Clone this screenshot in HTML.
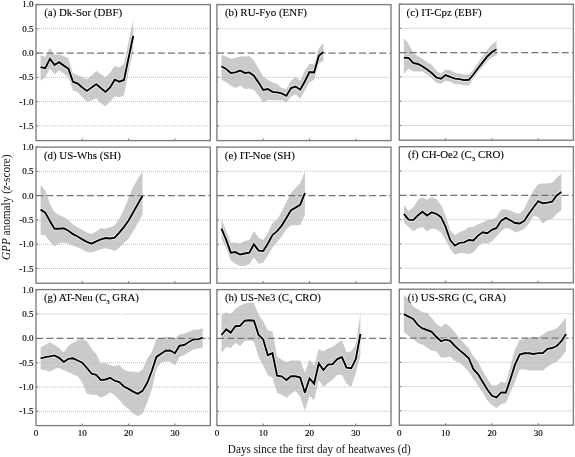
<!DOCTYPE html><html><head><meta charset="utf-8"><style>html,body{margin:0;padding:0;background:#fff;}svg{display:block;will-change:transform;}text{font-family:"Liberation Serif",serif;}</style></head><body>
<svg width="575" height="457" viewBox="0 0 575 457">
<polygon fill="#cacaca" points="40.6,54.9 45.3,56.9 49.9,48.1 54.5,54.7 59.1,54.5 63.8,55.9 68.4,58.3 73.0,73.4 77.7,74.9 82.3,77.3 86.9,79.2 91.6,75.4 96.2,71.0 100.8,73.9 105.5,77.3 110.1,72.4 114.7,66.1 119.3,67.6 124.0,63.7 128.6,41.8 133.2,19.5 133.2,50.6 128.6,72.0 124.0,95.3 119.3,97.2 114.7,96.3 110.1,101.6 105.5,106.5 100.8,103.1 96.2,98.2 91.6,100.6 86.9,101.6 82.3,97.2 77.7,91.9 73.0,90.4 68.4,77.3 63.8,73.4 59.1,70.5 54.5,74.4 49.9,68.6 45.3,77.3 40.6,80.7"/>
<line x1="37.0" y1="28.7" x2="210.3" y2="28.7" stroke="#bababa" stroke-width="1" stroke-dasharray="1 1"/>
<line x1="37.0" y1="77.3" x2="210.3" y2="77.3" stroke="#bababa" stroke-width="1" stroke-dasharray="1 1"/>
<line x1="37.0" y1="101.6" x2="210.3" y2="101.6" stroke="#bababa" stroke-width="1" stroke-dasharray="1 1"/>
<line x1="37.0" y1="125.9" x2="210.3" y2="125.9" stroke="#bababa" stroke-width="1" stroke-dasharray="1 1"/>
<line x1="36.3" y1="53.0" x2="210.3" y2="53.0" stroke="#747474" stroke-width="1.25" stroke-dasharray="7 3.13"/>
<polyline fill="none" stroke="#f4f4f4" stroke-width="3.4" stroke-linejoin="miter" stroke-miterlimit="3" points="40.6,67.1 45.3,68.1 49.9,58.8 54.5,64.9 59.1,62.2 63.8,65.6 68.4,68.6 73.0,81.7 77.7,83.6 82.3,87.5 86.9,90.9 91.6,87.5 96.2,84.1 100.8,88.0 105.5,91.9 110.1,87.5 114.7,79.7 119.3,81.7 124.0,80.0 128.6,57.9 133.2,36.0"/>
<polyline fill="none" stroke="#000" stroke-width="1.9" stroke-linejoin="miter" stroke-miterlimit="3" points="40.6,67.1 45.3,68.1 49.9,58.8 54.5,64.9 59.1,62.2 63.8,65.6 68.4,68.6 73.0,81.7 77.7,83.6 82.3,87.5 86.9,90.9 91.6,87.5 96.2,84.1 100.8,88.0 105.5,91.9 110.1,87.5 114.7,79.7 119.3,81.7 124.0,80.0 128.6,57.9 133.2,36.0"/>
<line x1="36.0" y1="4.4" x2="38.0" y2="4.4" stroke="#707070" stroke-width="1"/>
<line x1="36.0" y1="28.7" x2="38.0" y2="28.7" stroke="#707070" stroke-width="1"/>
<line x1="36.0" y1="53.0" x2="38.0" y2="53.0" stroke="#707070" stroke-width="1"/>
<line x1="36.0" y1="77.3" x2="38.0" y2="77.3" stroke="#707070" stroke-width="1"/>
<line x1="36.0" y1="101.6" x2="38.0" y2="101.6" stroke="#707070" stroke-width="1"/>
<line x1="36.0" y1="125.9" x2="38.0" y2="125.9" stroke="#707070" stroke-width="1"/>
<line x1="82.3" y1="140.6" x2="82.3" y2="138.6" stroke="#707070" stroke-width="1"/>
<line x1="128.6" y1="140.6" x2="128.6" y2="138.6" stroke="#707070" stroke-width="1"/>
<line x1="174.9" y1="140.6" x2="174.9" y2="138.6" stroke="#707070" stroke-width="1"/>
<rect x="36.0" y="4.6" width="174.3" height="136.0" fill="none" stroke="#7c7c7c" stroke-width="1.35"/>
<text x="44.2" y="16.2" font-size="11" textLength="78.0" lengthAdjust="spacingAndGlyphs" fill="#000" stroke="#000" stroke-width="0.1">(a) Dk-Sor (DBF)</text>
<polygon fill="#cacaca" points="221.5,54.9 226.2,56.4 230.8,58.8 235.4,57.9 240.1,56.4 244.7,56.4 249.3,55.9 253.9,60.5 258.6,68.6 263.2,76.3 267.8,79.7 272.5,82.6 277.1,83.9 281.7,88.0 286.4,89.0 291.0,80.7 295.6,76.8 300.2,80.7 304.9,70.5 309.5,63.7 314.1,64.2 318.8,48.4 323.4,42.8 323.4,60.8 318.8,63.7 314.1,79.7 309.5,82.2 304.9,90.4 300.2,98.7 295.6,94.3 291.0,96.7 286.4,102.6 281.7,100.1 277.1,100.6 272.5,100.1 267.8,100.1 263.2,102.6 258.6,95.8 253.9,89.9 249.3,88.5 244.7,89.0 240.1,85.6 235.4,88.0 230.8,85.6 226.2,82.2 221.5,79.7"/>
<line x1="217.9" y1="28.7" x2="391.0" y2="28.7" stroke="#bababa" stroke-width="1" stroke-dasharray="1 1"/>
<line x1="217.9" y1="77.3" x2="391.0" y2="77.3" stroke="#bababa" stroke-width="1" stroke-dasharray="1 1"/>
<line x1="217.9" y1="101.6" x2="391.0" y2="101.6" stroke="#bababa" stroke-width="1" stroke-dasharray="1 1"/>
<line x1="217.9" y1="125.9" x2="391.0" y2="125.9" stroke="#bababa" stroke-width="1" stroke-dasharray="1 1"/>
<line x1="217.2" y1="53.0" x2="391.0" y2="53.0" stroke="#747474" stroke-width="1.25" stroke-dasharray="7 3.13"/>
<polyline fill="none" stroke="#f4f4f4" stroke-width="3.4" stroke-linejoin="miter" stroke-miterlimit="3" points="221.5,66.4 226.2,69.0 230.8,72.9 235.4,72.4 240.1,70.5 244.7,72.9 249.3,72.4 253.9,75.6 258.6,82.6 263.2,89.9 267.8,89.0 272.5,91.9 277.1,92.4 281.7,93.3 286.4,95.8 291.0,88.0 295.6,86.5 300.2,89.7 304.9,81.2 309.5,72.0 314.1,72.4 318.8,55.9 323.4,52.0"/>
<polyline fill="none" stroke="#000" stroke-width="1.9" stroke-linejoin="miter" stroke-miterlimit="3" points="221.5,66.4 226.2,69.0 230.8,72.9 235.4,72.4 240.1,70.5 244.7,72.9 249.3,72.4 253.9,75.6 258.6,82.6 263.2,89.9 267.8,89.0 272.5,91.9 277.1,92.4 281.7,93.3 286.4,95.8 291.0,88.0 295.6,86.5 300.2,89.7 304.9,81.2 309.5,72.0 314.1,72.4 318.8,55.9 323.4,52.0"/>
<line x1="216.9" y1="4.4" x2="218.9" y2="4.4" stroke="#707070" stroke-width="1"/>
<line x1="216.9" y1="28.7" x2="218.9" y2="28.7" stroke="#707070" stroke-width="1"/>
<line x1="216.9" y1="53.0" x2="218.9" y2="53.0" stroke="#707070" stroke-width="1"/>
<line x1="216.9" y1="77.3" x2="218.9" y2="77.3" stroke="#707070" stroke-width="1"/>
<line x1="216.9" y1="101.6" x2="218.9" y2="101.6" stroke="#707070" stroke-width="1"/>
<line x1="216.9" y1="125.9" x2="218.9" y2="125.9" stroke="#707070" stroke-width="1"/>
<line x1="263.2" y1="140.6" x2="263.2" y2="138.6" stroke="#707070" stroke-width="1"/>
<line x1="309.5" y1="140.6" x2="309.5" y2="138.6" stroke="#707070" stroke-width="1"/>
<line x1="355.8" y1="140.6" x2="355.8" y2="138.6" stroke="#707070" stroke-width="1"/>
<rect x="216.9" y="4.6" width="174.1" height="136.0" fill="none" stroke="#7c7c7c" stroke-width="1.35"/>
<text x="224.9" y="16.2" font-size="11" textLength="82.0" lengthAdjust="spacingAndGlyphs" fill="#000" stroke="#000" stroke-width="0.1">(b) RU-Fyo (ENF)</text>
<polygon fill="#cacaca" points="403.9,38.0 408.6,43.9 413.2,53.1 417.8,56.0 422.4,58.7 427.1,62.3 431.7,64.8 436.3,70.8 441.0,73.7 445.6,69.4 450.2,70.1 454.9,72.8 459.5,73.5 464.1,74.5 468.8,74.5 473.4,69.6 478.0,62.8 482.6,56.5 487.3,49.7 491.9,44.3 496.5,40.9 496.5,55.0 491.9,57.5 487.3,60.9 482.6,67.2 478.0,72.3 473.4,78.6 468.8,85.6 464.1,85.2 459.5,84.2 454.9,84.2 450.2,81.8 445.6,80.8 441.0,83.7 436.3,82.7 431.7,77.9 427.1,74.5 422.4,71.6 417.8,71.6 413.2,71.6 408.6,68.6 403.9,73.7"/>
<line x1="400.3" y1="28.3" x2="573.4" y2="28.3" stroke="#bababa" stroke-width="1" stroke-dasharray="1 1"/>
<line x1="400.3" y1="76.9" x2="573.4" y2="76.9" stroke="#bababa" stroke-width="1" stroke-dasharray="1 1"/>
<line x1="400.3" y1="101.2" x2="573.4" y2="101.2" stroke="#bababa" stroke-width="1" stroke-dasharray="1 1"/>
<line x1="400.3" y1="125.5" x2="573.4" y2="125.5" stroke="#bababa" stroke-width="1" stroke-dasharray="1 1"/>
<line x1="399.6" y1="52.6" x2="573.4" y2="52.6" stroke="#747474" stroke-width="1.25" stroke-dasharray="7 3.13"/>
<polyline fill="none" stroke="#f4f4f4" stroke-width="3.4" stroke-linejoin="miter" stroke-miterlimit="3" points="403.9,57.8 408.6,57.9 413.2,62.8 417.8,64.0 422.4,66.2 427.1,69.6 431.7,73.0 436.3,77.4 441.0,78.8 445.6,75.0 450.2,76.9 454.9,78.6 459.5,79.1 464.1,80.1 468.8,79.8 473.4,74.5 478.0,68.2 482.6,62.3 487.3,56.5 491.9,52.1 496.5,49.2"/>
<polyline fill="none" stroke="#000" stroke-width="1.9" stroke-linejoin="miter" stroke-miterlimit="3" points="403.9,57.8 408.6,57.9 413.2,62.8 417.8,64.0 422.4,66.2 427.1,69.6 431.7,73.0 436.3,77.4 441.0,78.8 445.6,75.0 450.2,76.9 454.9,78.6 459.5,79.1 464.1,80.1 468.8,79.8 473.4,74.5 478.0,68.2 482.6,62.3 487.3,56.5 491.9,52.1 496.5,49.2"/>
<line x1="399.3" y1="4.0" x2="401.3" y2="4.0" stroke="#707070" stroke-width="1"/>
<line x1="399.3" y1="28.3" x2="401.3" y2="28.3" stroke="#707070" stroke-width="1"/>
<line x1="399.3" y1="52.6" x2="401.3" y2="52.6" stroke="#707070" stroke-width="1"/>
<line x1="399.3" y1="76.9" x2="401.3" y2="76.9" stroke="#707070" stroke-width="1"/>
<line x1="399.3" y1="101.2" x2="401.3" y2="101.2" stroke="#707070" stroke-width="1"/>
<line x1="399.3" y1="125.5" x2="401.3" y2="125.5" stroke="#707070" stroke-width="1"/>
<line x1="445.6" y1="140.2" x2="445.6" y2="138.2" stroke="#707070" stroke-width="1"/>
<line x1="491.9" y1="140.2" x2="491.9" y2="138.2" stroke="#707070" stroke-width="1"/>
<line x1="538.2" y1="140.2" x2="538.2" y2="138.2" stroke="#707070" stroke-width="1"/>
<rect x="399.3" y="4.2" width="174.1" height="136.0" fill="none" stroke="#7c7c7c" stroke-width="1.35"/>
<text x="406.6" y="15.8" font-size="11" textLength="75.0" lengthAdjust="spacingAndGlyphs" fill="#000" stroke="#000" stroke-width="0.1">(c) IT-Cpz (EBF)</text>
<polygon fill="#cacaca" points="40.6,185.0 45.3,190.8 49.9,204.0 54.5,212.0 59.1,215.1 63.8,217.1 68.4,220.0 73.0,224.4 77.7,227.5 82.3,230.0 86.9,232.6 91.6,233.9 96.2,231.2 100.8,228.3 105.5,228.7 110.1,227.3 114.7,225.3 119.3,218.5 124.0,209.6 128.6,198.1 133.2,187.0 137.9,178.7 142.5,171.4 142.5,214.7 137.9,222.9 133.2,231.4 128.6,238.7 124.0,242.8 119.3,247.7 114.7,251.1 110.1,249.2 105.5,248.2 100.8,249.2 96.2,251.1 91.6,252.6 86.9,252.1 82.3,249.6 77.7,247.2 73.0,245.8 68.4,243.8 63.8,242.4 59.1,243.3 54.5,246.2 49.9,241.4 45.3,235.6 40.6,235.1"/>
<line x1="37.0" y1="171.4" x2="210.3" y2="171.4" stroke="#bababa" stroke-width="1" stroke-dasharray="1 1"/>
<line x1="37.0" y1="220.0" x2="210.3" y2="220.0" stroke="#bababa" stroke-width="1" stroke-dasharray="1 1"/>
<line x1="37.0" y1="244.3" x2="210.3" y2="244.3" stroke="#bababa" stroke-width="1" stroke-dasharray="1 1"/>
<line x1="37.0" y1="268.6" x2="210.3" y2="268.6" stroke="#bababa" stroke-width="1" stroke-dasharray="1 1"/>
<line x1="36.3" y1="195.7" x2="210.3" y2="195.7" stroke="#747474" stroke-width="1.25" stroke-dasharray="7 3.13"/>
<polyline fill="none" stroke="#f4f4f4" stroke-width="3.4" stroke-linejoin="miter" stroke-miterlimit="3" points="40.6,209.6 45.3,212.7 49.9,221.0 54.5,228.7 59.1,228.7 63.8,228.3 68.4,230.7 73.0,234.1 77.7,236.5 82.3,239.4 86.9,241.9 91.6,243.6 96.2,241.4 100.8,239.4 105.5,238.0 110.1,238.5 114.7,237.7 119.3,232.6 124.0,226.8 128.6,220.5 133.2,212.2 137.9,204.0 142.5,195.7"/>
<polyline fill="none" stroke="#000" stroke-width="1.9" stroke-linejoin="miter" stroke-miterlimit="3" points="40.6,209.6 45.3,212.7 49.9,221.0 54.5,228.7 59.1,228.7 63.8,228.3 68.4,230.7 73.0,234.1 77.7,236.5 82.3,239.4 86.9,241.9 91.6,243.6 96.2,241.4 100.8,239.4 105.5,238.0 110.1,238.5 114.7,237.7 119.3,232.6 124.0,226.8 128.6,220.5 133.2,212.2 137.9,204.0 142.5,195.7"/>
<line x1="36.0" y1="147.1" x2="38.0" y2="147.1" stroke="#707070" stroke-width="1"/>
<line x1="36.0" y1="171.4" x2="38.0" y2="171.4" stroke="#707070" stroke-width="1"/>
<line x1="36.0" y1="195.7" x2="38.0" y2="195.7" stroke="#707070" stroke-width="1"/>
<line x1="36.0" y1="220.0" x2="38.0" y2="220.0" stroke="#707070" stroke-width="1"/>
<line x1="36.0" y1="244.3" x2="38.0" y2="244.3" stroke="#707070" stroke-width="1"/>
<line x1="36.0" y1="268.6" x2="38.0" y2="268.6" stroke="#707070" stroke-width="1"/>
<line x1="82.3" y1="283.2" x2="82.3" y2="281.2" stroke="#707070" stroke-width="1"/>
<line x1="128.6" y1="283.2" x2="128.6" y2="281.2" stroke="#707070" stroke-width="1"/>
<line x1="174.9" y1="283.2" x2="174.9" y2="281.2" stroke="#707070" stroke-width="1"/>
<rect x="36.0" y="147.1" width="174.3" height="136.1" fill="none" stroke="#7c7c7c" stroke-width="1.35"/>
<text x="43.9" y="158.7" font-size="11" textLength="77.0" lengthAdjust="spacingAndGlyphs" fill="#000" stroke="#000" stroke-width="0.1">(d) US-Whs (SH)</text>
<polygon fill="#cacaca" points="221.5,219.0 226.2,230.7 230.8,242.8 235.4,242.4 240.1,243.3 244.7,240.9 249.3,239.9 253.9,231.2 258.6,237.5 263.2,239.9 267.8,233.1 272.5,222.9 277.1,219.5 281.7,211.7 286.4,202.0 291.0,193.0 295.6,187.9 300.2,183.3 304.9,171.4 304.9,214.7 300.2,225.3 295.6,225.3 291.0,225.3 286.4,229.2 281.7,236.5 277.1,241.9 272.5,247.2 267.8,255.5 263.2,262.8 258.6,263.7 253.9,257.4 249.3,264.2 244.7,265.7 240.1,266.2 235.4,263.7 230.8,260.3 226.2,248.2 221.5,239.0"/>
<line x1="217.9" y1="171.4" x2="391.0" y2="171.4" stroke="#bababa" stroke-width="1" stroke-dasharray="1 1"/>
<line x1="217.9" y1="220.0" x2="391.0" y2="220.0" stroke="#bababa" stroke-width="1" stroke-dasharray="1 1"/>
<line x1="217.9" y1="244.3" x2="391.0" y2="244.3" stroke="#bababa" stroke-width="1" stroke-dasharray="1 1"/>
<line x1="217.9" y1="268.6" x2="391.0" y2="268.6" stroke="#bababa" stroke-width="1" stroke-dasharray="1 1"/>
<line x1="217.2" y1="195.7" x2="391.0" y2="195.7" stroke="#747474" stroke-width="1.25" stroke-dasharray="7 3.13"/>
<polyline fill="none" stroke="#f4f4f4" stroke-width="3.4" stroke-linejoin="miter" stroke-miterlimit="3" points="221.5,228.5 226.2,239.9 230.8,252.6 235.4,252.1 240.1,254.5 244.7,253.5 249.3,252.6 253.9,244.3 258.6,250.6 263.2,251.1 267.8,243.8 272.5,235.1 277.1,231.2 281.7,225.6 286.4,218.1 291.0,210.3 295.6,207.6 300.2,204.9 304.9,193.0"/>
<polyline fill="none" stroke="#000" stroke-width="1.9" stroke-linejoin="miter" stroke-miterlimit="3" points="221.5,228.5 226.2,239.9 230.8,252.6 235.4,252.1 240.1,254.5 244.7,253.5 249.3,252.6 253.9,244.3 258.6,250.6 263.2,251.1 267.8,243.8 272.5,235.1 277.1,231.2 281.7,225.6 286.4,218.1 291.0,210.3 295.6,207.6 300.2,204.9 304.9,193.0"/>
<line x1="216.9" y1="147.1" x2="218.9" y2="147.1" stroke="#707070" stroke-width="1"/>
<line x1="216.9" y1="171.4" x2="218.9" y2="171.4" stroke="#707070" stroke-width="1"/>
<line x1="216.9" y1="195.7" x2="218.9" y2="195.7" stroke="#707070" stroke-width="1"/>
<line x1="216.9" y1="220.0" x2="218.9" y2="220.0" stroke="#707070" stroke-width="1"/>
<line x1="216.9" y1="244.3" x2="218.9" y2="244.3" stroke="#707070" stroke-width="1"/>
<line x1="216.9" y1="268.6" x2="218.9" y2="268.6" stroke="#707070" stroke-width="1"/>
<line x1="263.2" y1="283.2" x2="263.2" y2="281.2" stroke="#707070" stroke-width="1"/>
<line x1="309.5" y1="283.2" x2="309.5" y2="281.2" stroke="#707070" stroke-width="1"/>
<line x1="355.8" y1="283.2" x2="355.8" y2="281.2" stroke="#707070" stroke-width="1"/>
<rect x="216.9" y="147.1" width="174.1" height="136.1" fill="none" stroke="#7c7c7c" stroke-width="1.35"/>
<text x="224.8" y="158.7" font-size="11" textLength="70.0" lengthAdjust="spacingAndGlyphs" fill="#000" stroke="#000" stroke-width="0.1">(e) IT-Noe (SH)</text>
<polygon fill="#cacaca" points="403.9,205.0 408.6,211.1 413.2,207.4 417.8,200.2 422.4,197.2 427.1,199.7 431.7,197.2 436.3,198.7 441.0,205.0 445.6,215.5 450.2,230.3 454.9,235.2 459.5,232.2 464.1,230.3 468.8,227.1 473.4,226.9 478.0,224.2 482.6,222.5 487.3,220.1 491.9,219.6 496.5,217.2 501.2,209.6 505.8,209.2 510.4,210.6 515.0,212.8 519.7,213.8 524.3,208.7 528.9,198.9 533.6,190.2 538.2,184.1 542.8,183.4 547.5,183.4 552.1,182.7 556.7,178.0 561.4,173.7 561.4,210.4 556.7,213.8 552.1,219.1 547.5,220.1 542.8,223.5 538.2,217.2 533.6,215.7 528.9,223.5 524.3,228.8 519.7,231.3 515.0,232.2 510.4,229.1 505.8,228.1 501.2,231.3 496.5,236.4 491.9,241.2 487.3,243.4 482.6,242.9 478.0,246.8 473.4,252.6 468.8,254.1 464.1,253.1 459.5,253.1 454.9,255.1 450.2,248.8 445.6,240.0 441.0,232.2 436.3,229.3 431.7,228.6 427.1,231.3 422.4,226.9 417.8,228.6 413.2,231.3 408.6,226.9 403.9,222.5"/>
<line x1="400.3" y1="171.0" x2="573.4" y2="171.0" stroke="#bababa" stroke-width="1" stroke-dasharray="1 1"/>
<line x1="400.3" y1="219.6" x2="573.4" y2="219.6" stroke="#bababa" stroke-width="1" stroke-dasharray="1 1"/>
<line x1="400.3" y1="243.9" x2="573.4" y2="243.9" stroke="#bababa" stroke-width="1" stroke-dasharray="1 1"/>
<line x1="400.3" y1="268.2" x2="573.4" y2="268.2" stroke="#bababa" stroke-width="1" stroke-dasharray="1 1"/>
<line x1="399.6" y1="195.3" x2="573.4" y2="195.3" stroke="#747474" stroke-width="1.25" stroke-dasharray="7 3.13"/>
<polyline fill="none" stroke="#f4f4f4" stroke-width="3.4" stroke-linejoin="miter" stroke-miterlimit="3" points="403.9,213.8 408.6,219.6 413.2,220.1 417.8,215.5 422.4,211.8 427.1,215.5 431.7,212.3 436.3,213.8 441.0,217.2 445.6,226.9 450.2,240.0 454.9,245.6 459.5,242.9 464.1,242.4 468.8,240.0 473.4,240.5 478.0,235.6 482.6,232.2 487.3,233.2 491.9,229.8 496.5,227.9 501.2,220.6 505.8,217.9 510.4,220.3 515.0,223.0 519.7,223.5 524.3,220.8 528.9,213.8 533.6,207.2 538.2,201.1 542.8,203.3 547.5,202.6 552.1,201.6 556.7,195.5 561.4,191.9"/>
<polyline fill="none" stroke="#000" stroke-width="1.9" stroke-linejoin="miter" stroke-miterlimit="3" points="403.9,213.8 408.6,219.6 413.2,220.1 417.8,215.5 422.4,211.8 427.1,215.5 431.7,212.3 436.3,213.8 441.0,217.2 445.6,226.9 450.2,240.0 454.9,245.6 459.5,242.9 464.1,242.4 468.8,240.0 473.4,240.5 478.0,235.6 482.6,232.2 487.3,233.2 491.9,229.8 496.5,227.9 501.2,220.6 505.8,217.9 510.4,220.3 515.0,223.0 519.7,223.5 524.3,220.8 528.9,213.8 533.6,207.2 538.2,201.1 542.8,203.3 547.5,202.6 552.1,201.6 556.7,195.5 561.4,191.9"/>
<line x1="399.3" y1="146.7" x2="401.3" y2="146.7" stroke="#707070" stroke-width="1"/>
<line x1="399.3" y1="171.0" x2="401.3" y2="171.0" stroke="#707070" stroke-width="1"/>
<line x1="399.3" y1="195.3" x2="401.3" y2="195.3" stroke="#707070" stroke-width="1"/>
<line x1="399.3" y1="219.6" x2="401.3" y2="219.6" stroke="#707070" stroke-width="1"/>
<line x1="399.3" y1="243.9" x2="401.3" y2="243.9" stroke="#707070" stroke-width="1"/>
<line x1="399.3" y1="268.2" x2="401.3" y2="268.2" stroke="#707070" stroke-width="1"/>
<line x1="445.6" y1="282.8" x2="445.6" y2="280.8" stroke="#707070" stroke-width="1"/>
<line x1="491.9" y1="282.8" x2="491.9" y2="280.8" stroke="#707070" stroke-width="1"/>
<line x1="538.2" y1="282.8" x2="538.2" y2="280.8" stroke="#707070" stroke-width="1"/>
<rect x="399.3" y="146.7" width="174.1" height="136.1" fill="none" stroke="#7c7c7c" stroke-width="1.35"/>
<text x="407.9" y="158.3" font-size="11" textLength="96.0" lengthAdjust="spacingAndGlyphs" fill="#000" stroke="#000" stroke-width="0.1">(f) CH-Oe2 (C<tspan font-size="7" dy="3">3</tspan><tspan dy="-3"> </tspan>CRO)</text>
<polygon fill="#cacaca" points="40.6,347.6 45.3,344.7 49.9,342.3 54.5,344.7 59.1,348.1 63.8,352.5 68.4,345.7 73.0,342.8 77.7,340.1 82.3,339.1 86.9,341.3 91.6,348.6 96.2,354.0 100.8,363.7 105.5,362.7 110.1,365.1 114.7,366.3 119.3,365.1 124.0,369.7 128.6,371.4 133.2,371.4 137.9,372.4 142.5,369.7 147.1,358.8 151.8,352.3 156.4,338.4 161.0,338.2 165.6,336.9 170.3,336.9 174.9,338.4 179.5,334.5 184.2,333.5 188.8,332.1 193.4,329.7 198.0,329.7 202.7,328.2 202.7,347.6 198.0,348.6 193.4,349.6 188.8,352.3 184.2,354.9 179.5,356.9 174.9,365.6 170.3,361.7 165.6,361.2 161.0,362.5 156.4,369.0 151.8,389.4 147.1,403.0 142.5,413.5 137.9,416.2 133.2,413.5 128.6,409.1 124.0,405.5 119.3,400.1 114.7,395.3 110.1,392.3 105.5,395.7 100.8,397.7 96.2,394.8 91.6,394.8 86.9,393.8 82.3,382.4 77.7,376.3 73.0,374.6 68.4,371.9 63.8,370.2 59.1,368.0 54.5,369.0 49.9,371.7 45.3,370.2 40.6,369.5"/>
<line x1="37.0" y1="314.1" x2="210.3" y2="314.1" stroke="#bababa" stroke-width="1" stroke-dasharray="1 1"/>
<line x1="37.0" y1="362.7" x2="210.3" y2="362.7" stroke="#bababa" stroke-width="1" stroke-dasharray="1 1"/>
<line x1="37.0" y1="387.0" x2="210.3" y2="387.0" stroke="#bababa" stroke-width="1" stroke-dasharray="1 1"/>
<line x1="37.0" y1="411.3" x2="210.3" y2="411.3" stroke="#bababa" stroke-width="1" stroke-dasharray="1 1"/>
<line x1="36.3" y1="338.4" x2="210.3" y2="338.4" stroke="#747474" stroke-width="1.25" stroke-dasharray="7 3.13"/>
<polyline fill="none" stroke="#f4f4f4" stroke-width="3.4" stroke-linejoin="miter" stroke-miterlimit="3" points="40.6,358.3 45.3,357.1 49.9,356.4 54.5,355.4 59.1,357.8 63.8,362.0 68.4,358.8 73.0,358.3 77.7,360.5 82.3,362.7 86.9,368.0 91.6,373.6 96.2,374.8 100.8,380.0 105.5,379.5 110.1,377.8 114.7,380.7 119.3,382.1 124.0,386.5 128.6,388.9 133.2,391.6 137.9,393.8 142.5,390.9 147.1,383.1 151.8,371.0 156.4,356.9 161.0,353.7 165.6,350.8 170.3,350.5 174.9,353.2 179.5,345.7 184.2,345.0 188.8,342.0 193.4,339.4 198.0,339.4 202.7,337.7"/>
<polyline fill="none" stroke="#000" stroke-width="1.9" stroke-linejoin="miter" stroke-miterlimit="3" points="40.6,358.3 45.3,357.1 49.9,356.4 54.5,355.4 59.1,357.8 63.8,362.0 68.4,358.8 73.0,358.3 77.7,360.5 82.3,362.7 86.9,368.0 91.6,373.6 96.2,374.8 100.8,380.0 105.5,379.5 110.1,377.8 114.7,380.7 119.3,382.1 124.0,386.5 128.6,388.9 133.2,391.6 137.9,393.8 142.5,390.9 147.1,383.1 151.8,371.0 156.4,356.9 161.0,353.7 165.6,350.8 170.3,350.5 174.9,353.2 179.5,345.7 184.2,345.0 188.8,342.0 193.4,339.4 198.0,339.4 202.7,337.7"/>
<line x1="36.0" y1="289.8" x2="38.0" y2="289.8" stroke="#707070" stroke-width="1"/>
<line x1="36.0" y1="314.1" x2="38.0" y2="314.1" stroke="#707070" stroke-width="1"/>
<line x1="36.0" y1="338.4" x2="38.0" y2="338.4" stroke="#707070" stroke-width="1"/>
<line x1="36.0" y1="362.7" x2="38.0" y2="362.7" stroke="#707070" stroke-width="1"/>
<line x1="36.0" y1="387.0" x2="38.0" y2="387.0" stroke="#707070" stroke-width="1"/>
<line x1="36.0" y1="411.3" x2="38.0" y2="411.3" stroke="#707070" stroke-width="1"/>
<line x1="82.3" y1="425.6" x2="82.3" y2="423.6" stroke="#707070" stroke-width="1"/>
<line x1="128.6" y1="425.6" x2="128.6" y2="423.6" stroke="#707070" stroke-width="1"/>
<line x1="174.9" y1="425.6" x2="174.9" y2="423.6" stroke="#707070" stroke-width="1"/>
<rect x="36.0" y="289.6" width="174.3" height="136.0" fill="none" stroke="#7c7c7c" stroke-width="1.35"/>
<text x="43.9" y="301.2" font-size="11" textLength="95.0" lengthAdjust="spacingAndGlyphs" fill="#000" stroke="#000" stroke-width="0.1">(g) AT-Neu (C<tspan font-size="7" dy="3">3</tspan><tspan dy="-3"> </tspan>GRA)</text>
<polygon fill="#cacaca" points="221.5,314.8 226.2,312.2 230.8,314.1 235.4,308.8 240.1,305.4 244.7,303.4 249.3,302.4 253.9,302.9 258.6,314.8 263.2,320.9 267.8,330.6 272.5,331.6 277.1,356.6 281.7,359.5 286.4,362.5 291.0,360.5 295.6,360.5 300.2,360.5 304.9,372.4 309.5,359.5 314.1,365.6 318.8,349.1 323.4,351.5 328.0,348.6 332.6,346.7 337.3,343.3 341.9,340.3 346.5,352.3 351.2,351.3 355.8,344.2 360.4,312.9 360.4,356.1 355.8,372.9 351.2,387.0 346.5,383.6 341.9,374.8 337.3,374.8 332.6,379.7 328.0,383.1 323.4,386.8 318.8,380.0 314.1,400.6 309.5,395.7 304.9,410.8 300.2,396.7 295.6,390.9 291.0,393.8 286.4,397.7 281.7,394.8 277.1,392.8 272.5,377.8 267.8,375.3 263.2,365.6 258.6,356.9 253.9,341.6 249.3,340.6 244.7,341.1 240.1,345.9 235.4,342.8 230.8,348.1 226.2,347.1 221.5,353.2"/>
<line x1="217.9" y1="314.1" x2="391.0" y2="314.1" stroke="#bababa" stroke-width="1" stroke-dasharray="1 1"/>
<line x1="217.9" y1="362.7" x2="391.0" y2="362.7" stroke="#bababa" stroke-width="1" stroke-dasharray="1 1"/>
<line x1="217.9" y1="387.0" x2="391.0" y2="387.0" stroke="#bababa" stroke-width="1" stroke-dasharray="1 1"/>
<line x1="217.9" y1="411.3" x2="391.0" y2="411.3" stroke="#bababa" stroke-width="1" stroke-dasharray="1 1"/>
<line x1="217.2" y1="338.4" x2="391.0" y2="338.4" stroke="#747474" stroke-width="1.25" stroke-dasharray="7 3.13"/>
<polyline fill="none" stroke="#f4f4f4" stroke-width="3.4" stroke-linejoin="miter" stroke-miterlimit="3" points="221.5,335.0 226.2,329.4 230.8,332.6 235.4,326.2 240.1,325.8 244.7,320.7 249.3,320.2 253.9,320.7 258.6,335.0 263.2,339.4 267.8,355.2 272.5,353.2 277.1,375.6 281.7,376.3 286.4,380.0 291.0,376.3 295.6,376.3 300.2,377.5 304.9,392.8 309.5,378.3 314.1,383.6 318.8,363.4 323.4,370.0 328.0,364.6 332.6,364.2 337.3,359.1 341.9,357.1 346.5,367.6 351.2,368.3 355.8,359.1 360.4,334.0"/>
<polyline fill="none" stroke="#000" stroke-width="1.9" stroke-linejoin="miter" stroke-miterlimit="3" points="221.5,335.0 226.2,329.4 230.8,332.6 235.4,326.2 240.1,325.8 244.7,320.7 249.3,320.2 253.9,320.7 258.6,335.0 263.2,339.4 267.8,355.2 272.5,353.2 277.1,375.6 281.7,376.3 286.4,380.0 291.0,376.3 295.6,376.3 300.2,377.5 304.9,392.8 309.5,378.3 314.1,383.6 318.8,363.4 323.4,370.0 328.0,364.6 332.6,364.2 337.3,359.1 341.9,357.1 346.5,367.6 351.2,368.3 355.8,359.1 360.4,334.0"/>
<line x1="216.9" y1="289.8" x2="218.9" y2="289.8" stroke="#707070" stroke-width="1"/>
<line x1="216.9" y1="314.1" x2="218.9" y2="314.1" stroke="#707070" stroke-width="1"/>
<line x1="216.9" y1="338.4" x2="218.9" y2="338.4" stroke="#707070" stroke-width="1"/>
<line x1="216.9" y1="362.7" x2="218.9" y2="362.7" stroke="#707070" stroke-width="1"/>
<line x1="216.9" y1="387.0" x2="218.9" y2="387.0" stroke="#707070" stroke-width="1"/>
<line x1="216.9" y1="411.3" x2="218.9" y2="411.3" stroke="#707070" stroke-width="1"/>
<line x1="263.2" y1="425.6" x2="263.2" y2="423.6" stroke="#707070" stroke-width="1"/>
<line x1="309.5" y1="425.6" x2="309.5" y2="423.6" stroke="#707070" stroke-width="1"/>
<line x1="355.8" y1="425.6" x2="355.8" y2="423.6" stroke="#707070" stroke-width="1"/>
<rect x="216.9" y="289.6" width="174.1" height="136.0" fill="none" stroke="#7c7c7c" stroke-width="1.35"/>
<text x="224.9" y="301.2" font-size="11" textLength="96.0" lengthAdjust="spacingAndGlyphs" fill="#000" stroke="#000" stroke-width="0.1">(h) US-Ne3 (C<tspan font-size="7" dy="3">4</tspan><tspan dy="-3"> </tspan>CRO)</text>
<polygon fill="#cacaca" points="403.9,294.7 408.6,299.4 413.2,306.4 417.8,309.3 422.4,312.2 427.1,312.7 431.7,318.1 436.3,323.9 441.0,327.1 445.6,323.4 450.2,326.8 454.9,332.2 459.5,338.5 464.1,343.3 468.8,348.2 473.4,356.0 478.0,361.8 482.6,370.8 487.3,378.8 491.9,385.6 496.5,385.6 501.2,381.7 505.8,382.7 510.4,366.2 515.0,349.2 519.7,340.2 524.3,339.2 528.9,337.3 533.6,336.8 538.2,337.3 542.8,334.8 547.5,331.2 552.1,330.2 556.7,328.3 561.4,323.4 566.0,317.6 566.0,351.1 561.4,357.0 556.7,361.8 552.1,363.8 547.5,366.7 542.8,370.6 538.2,370.6 533.6,370.6 528.9,370.6 524.3,369.6 519.7,369.6 515.0,381.5 510.4,392.4 505.8,403.1 501.2,404.1 496.5,408.0 491.9,405.1 487.3,400.2 482.6,392.4 478.0,385.6 473.4,378.8 468.8,371.8 464.1,366.7 459.5,362.8 454.9,361.1 450.2,356.5 445.6,357.4 441.0,357.4 436.3,351.6 431.7,350.6 427.1,347.7 422.4,344.6 417.8,342.9 413.2,338.7 408.6,335.8 403.9,331.9"/>
<line x1="400.3" y1="313.7" x2="573.4" y2="313.7" stroke="#bababa" stroke-width="1" stroke-dasharray="1 1"/>
<line x1="400.3" y1="362.3" x2="573.4" y2="362.3" stroke="#bababa" stroke-width="1" stroke-dasharray="1 1"/>
<line x1="400.3" y1="386.6" x2="573.4" y2="386.6" stroke="#bababa" stroke-width="1" stroke-dasharray="1 1"/>
<line x1="400.3" y1="410.9" x2="573.4" y2="410.9" stroke="#bababa" stroke-width="1" stroke-dasharray="1 1"/>
<line x1="399.6" y1="338.0" x2="573.4" y2="338.0" stroke="#747474" stroke-width="1.25" stroke-dasharray="7 3.13"/>
<polyline fill="none" stroke="#f4f4f4" stroke-width="3.4" stroke-linejoin="miter" stroke-miterlimit="3" points="403.9,314.2 408.6,316.6 413.2,319.0 417.8,324.9 422.4,328.5 427.1,330.0 431.7,331.9 436.3,336.8 441.0,341.2 445.6,339.7 450.2,340.9 454.9,346.0 459.5,350.1 464.1,354.0 468.8,358.4 473.4,369.1 478.0,374.0 482.6,381.7 487.3,389.5 491.9,395.8 496.5,397.3 501.2,392.4 505.8,392.7 510.4,379.3 515.0,364.7 519.7,354.5 524.3,353.3 528.9,353.3 533.6,354.0 538.2,353.1 542.8,353.1 547.5,348.9 552.1,348.0 556.7,346.0 561.4,341.2 566.0,334.1"/>
<polyline fill="none" stroke="#000" stroke-width="1.9" stroke-linejoin="miter" stroke-miterlimit="3" points="403.9,314.2 408.6,316.6 413.2,319.0 417.8,324.9 422.4,328.5 427.1,330.0 431.7,331.9 436.3,336.8 441.0,341.2 445.6,339.7 450.2,340.9 454.9,346.0 459.5,350.1 464.1,354.0 468.8,358.4 473.4,369.1 478.0,374.0 482.6,381.7 487.3,389.5 491.9,395.8 496.5,397.3 501.2,392.4 505.8,392.7 510.4,379.3 515.0,364.7 519.7,354.5 524.3,353.3 528.9,353.3 533.6,354.0 538.2,353.1 542.8,353.1 547.5,348.9 552.1,348.0 556.7,346.0 561.4,341.2 566.0,334.1"/>
<line x1="399.3" y1="289.4" x2="401.3" y2="289.4" stroke="#707070" stroke-width="1"/>
<line x1="399.3" y1="313.7" x2="401.3" y2="313.7" stroke="#707070" stroke-width="1"/>
<line x1="399.3" y1="338.0" x2="401.3" y2="338.0" stroke="#707070" stroke-width="1"/>
<line x1="399.3" y1="362.3" x2="401.3" y2="362.3" stroke="#707070" stroke-width="1"/>
<line x1="399.3" y1="386.6" x2="401.3" y2="386.6" stroke="#707070" stroke-width="1"/>
<line x1="399.3" y1="410.9" x2="401.3" y2="410.9" stroke="#707070" stroke-width="1"/>
<line x1="445.6" y1="425.2" x2="445.6" y2="423.2" stroke="#707070" stroke-width="1"/>
<line x1="491.9" y1="425.2" x2="491.9" y2="423.2" stroke="#707070" stroke-width="1"/>
<line x1="538.2" y1="425.2" x2="538.2" y2="423.2" stroke="#707070" stroke-width="1"/>
<rect x="399.3" y="289.2" width="174.1" height="136.0" fill="none" stroke="#7c7c7c" stroke-width="1.35"/>
<text x="407.8" y="300.8" font-size="11" textLength="98.0" lengthAdjust="spacingAndGlyphs" fill="#000" stroke="#000" stroke-width="0.1">(i) US-SRG (C<tspan font-size="7" dy="3">4</tspan><tspan dy="-3"> </tspan>GRA)</text>
<text x="33.4" y="7.3" font-size="9" text-anchor="end" fill="#000" stroke="#000" stroke-width="0.15">1.0</text>
<text x="33.4" y="31.6" font-size="9" text-anchor="end" fill="#000" stroke="#000" stroke-width="0.15">0.5</text>
<text x="33.4" y="55.9" font-size="9" text-anchor="end" fill="#000" stroke="#000" stroke-width="0.15">0.0</text>
<text x="33.4" y="80.2" font-size="9" text-anchor="end" fill="#000" stroke="#000" stroke-width="0.15">-0.5</text>
<text x="33.4" y="104.5" font-size="9" text-anchor="end" fill="#000" stroke="#000" stroke-width="0.15">-1.0</text>
<text x="33.4" y="128.8" font-size="9" text-anchor="end" fill="#000" stroke="#000" stroke-width="0.15">-1.5</text>
<text x="33.4" y="150.0" font-size="9" text-anchor="end" fill="#000" stroke="#000" stroke-width="0.15">1.0</text>
<text x="33.4" y="174.3" font-size="9" text-anchor="end" fill="#000" stroke="#000" stroke-width="0.15">0.5</text>
<text x="33.4" y="198.6" font-size="9" text-anchor="end" fill="#000" stroke="#000" stroke-width="0.15">0.0</text>
<text x="33.4" y="222.9" font-size="9" text-anchor="end" fill="#000" stroke="#000" stroke-width="0.15">-0.5</text>
<text x="33.4" y="247.2" font-size="9" text-anchor="end" fill="#000" stroke="#000" stroke-width="0.15">-1.0</text>
<text x="33.4" y="271.5" font-size="9" text-anchor="end" fill="#000" stroke="#000" stroke-width="0.15">-1.5</text>
<text x="33.4" y="292.7" font-size="9" text-anchor="end" fill="#000" stroke="#000" stroke-width="0.15">1.0</text>
<text x="33.4" y="317.0" font-size="9" text-anchor="end" fill="#000" stroke="#000" stroke-width="0.15">0.5</text>
<text x="33.4" y="341.3" font-size="9" text-anchor="end" fill="#000" stroke="#000" stroke-width="0.15">0.0</text>
<text x="33.4" y="365.6" font-size="9" text-anchor="end" fill="#000" stroke="#000" stroke-width="0.15">-0.5</text>
<text x="33.4" y="389.9" font-size="9" text-anchor="end" fill="#000" stroke="#000" stroke-width="0.15">-1.0</text>
<text x="33.4" y="414.2" font-size="9" text-anchor="end" fill="#000" stroke="#000" stroke-width="0.15">-1.5</text>
<text x="36.0" y="436.3" font-size="9" text-anchor="middle" fill="#000" stroke="#000" stroke-width="0.15">0</text>
<text x="82.3" y="436.3" font-size="9" text-anchor="middle" fill="#000" stroke="#000" stroke-width="0.15">10</text>
<text x="128.6" y="436.3" font-size="9" text-anchor="middle" fill="#000" stroke="#000" stroke-width="0.15">20</text>
<text x="174.9" y="436.3" font-size="9" text-anchor="middle" fill="#000" stroke="#000" stroke-width="0.15">30</text>
<text x="216.9" y="436.3" font-size="9" text-anchor="middle" fill="#000" stroke="#000" stroke-width="0.15">0</text>
<text x="263.2" y="436.3" font-size="9" text-anchor="middle" fill="#000" stroke="#000" stroke-width="0.15">10</text>
<text x="309.5" y="436.3" font-size="9" text-anchor="middle" fill="#000" stroke="#000" stroke-width="0.15">20</text>
<text x="355.8" y="436.3" font-size="9" text-anchor="middle" fill="#000" stroke="#000" stroke-width="0.15">30</text>
<text x="399.3" y="436.3" font-size="9" text-anchor="middle" fill="#000" stroke="#000" stroke-width="0.15">0</text>
<text x="445.6" y="436.3" font-size="9" text-anchor="middle" fill="#000" stroke="#000" stroke-width="0.15">10</text>
<text x="491.9" y="436.3" font-size="9" text-anchor="middle" fill="#000" stroke="#000" stroke-width="0.15">20</text>
<text x="538.2" y="436.3" font-size="9" text-anchor="middle" fill="#000" stroke="#000" stroke-width="0.15">30</text>
<text x="227.8" y="453.3" font-size="13" textLength="183" lengthAdjust="spacingAndGlyphs" fill="#111">Days since the first day of heatwaves (d)</text>
<text transform="translate(10.1,260.1) rotate(-90)" font-size="12.8" textLength="105.7" lengthAdjust="spacingAndGlyphs" fill="#111"><tspan font-style="italic">GPP</tspan> anomaly (<tspan font-style="italic">z</tspan>-score)</text>
</svg></body></html>
